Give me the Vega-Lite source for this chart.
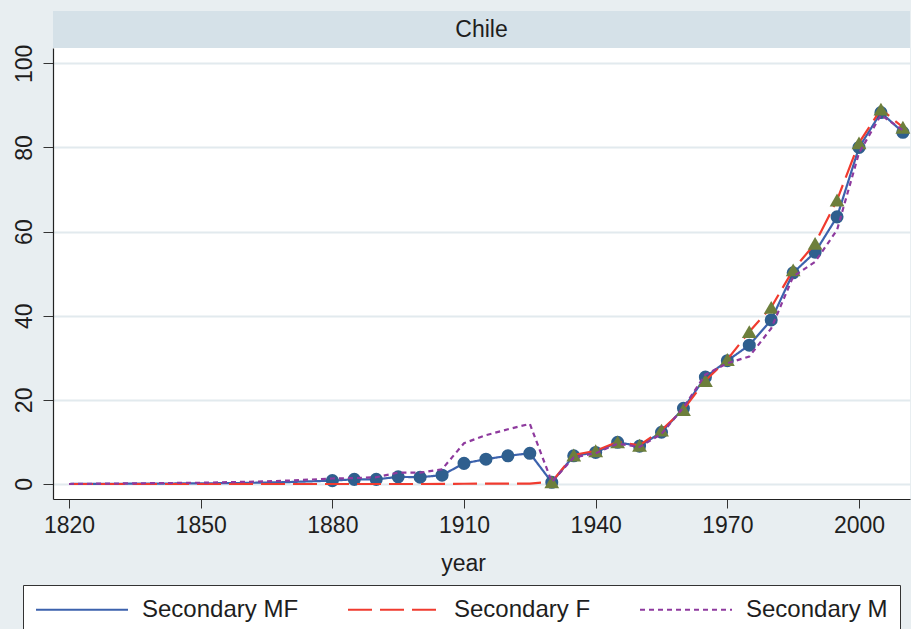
{
  "$schema": "https://vega.github.io/schema/vega-lite/v6.json",
  "background": "#e8eef1",
  "padding": {"left": 12, "top": 11, "right": 0, "bottom": 0},
  "spacing": 0,
  "bounds": "flush",
  "config": {
    "font": "Liberation Sans",
    "view": {"stroke": null},
    "axis": {
      "labelFont": "Liberation Sans",
      "titleFont": "Liberation Sans",
      "labelFontSize": 23,
      "titleFontSize": 23,
      "titleFontWeight": "normal",
      "labelColor": "#1e1e1e",
      "titleColor": "#1e1e1e",
      "domainColor": "#222222",
      "tickColor": "#333333",
      "domainWidth": 1.2,
      "tickWidth": 1
    },
    "legend": {
      "labelFont": "Liberation Sans",
      "labelFontSize": 24,
      "labelColor": "#1e1e1e"
    }
  },
  "datasets": {
    "panel": [{"country": "Chile"}],
    "chile": [
      {"year": 1820, "value": 0, "series": "Secondary MF"},
      {"year": 1830, "value": 0.05, "series": "Secondary MF"},
      {"year": 1840, "value": 0.1, "series": "Secondary MF"},
      {"year": 1850, "value": 0.15, "series": "Secondary MF"},
      {"year": 1860, "value": 0.25, "series": "Secondary MF"},
      {"year": 1870, "value": 0.45, "series": "Secondary MF"},
      {"year": 1880, "value": 0.8, "series": "Secondary MF"},
      {"year": 1885, "value": 1.1, "series": "Secondary MF"},
      {"year": 1890, "value": 1.1, "series": "Secondary MF"},
      {"year": 1895, "value": 1.7, "series": "Secondary MF"},
      {"year": 1900, "value": 1.6, "series": "Secondary MF"},
      {"year": 1905, "value": 2.1, "series": "Secondary MF"},
      {"year": 1910, "value": 4.9, "series": "Secondary MF"},
      {"year": 1915, "value": 5.9, "series": "Secondary MF"},
      {"year": 1920, "value": 6.7, "series": "Secondary MF"},
      {"year": 1925, "value": 7.3, "series": "Secondary MF"},
      {"year": 1930, "value": 0.4, "series": "Secondary MF"},
      {"year": 1935, "value": 6.7, "series": "Secondary MF"},
      {"year": 1940, "value": 7.5, "series": "Secondary MF"},
      {"year": 1945, "value": 9.9, "series": "Secondary MF"},
      {"year": 1950, "value": 9.0, "series": "Secondary MF"},
      {"year": 1955, "value": 12.3, "series": "Secondary MF"},
      {"year": 1960, "value": 18.0, "series": "Secondary MF"},
      {"year": 1965, "value": 25.4, "series": "Secondary MF"},
      {"year": 1970, "value": 29.3, "series": "Secondary MF"},
      {"year": 1975, "value": 33.0, "series": "Secondary MF"},
      {"year": 1980, "value": 39.0, "series": "Secondary MF"},
      {"year": 1985, "value": 50.2, "series": "Secondary MF"},
      {"year": 1990, "value": 55.1, "series": "Secondary MF"},
      {"year": 1995, "value": 63.5, "series": "Secondary MF"},
      {"year": 2000, "value": 80.0, "series": "Secondary MF"},
      {"year": 2005, "value": 88.3, "series": "Secondary MF"},
      {"year": 2010, "value": 83.6, "series": "Secondary MF"},
      {"year": 1820, "value": 0, "series": "Secondary F"},
      {"year": 1840, "value": 0, "series": "Secondary F"},
      {"year": 1860, "value": 0, "series": "Secondary F"},
      {"year": 1880, "value": 0, "series": "Secondary F"},
      {"year": 1900, "value": 0, "series": "Secondary F"},
      {"year": 1910, "value": 0.05, "series": "Secondary F"},
      {"year": 1920, "value": 0.1, "series": "Secondary F"},
      {"year": 1925, "value": 0.1, "series": "Secondary F"},
      {"year": 1930, "value": 0.5, "series": "Secondary F"},
      {"year": 1935, "value": 6.9, "series": "Secondary F"},
      {"year": 1940, "value": 7.9, "series": "Secondary F"},
      {"year": 1945, "value": 10.0, "series": "Secondary F"},
      {"year": 1950, "value": 9.2, "series": "Secondary F"},
      {"year": 1955, "value": 12.8, "series": "Secondary F"},
      {"year": 1960, "value": 17.7, "series": "Secondary F"},
      {"year": 1965, "value": 24.6, "series": "Secondary F"},
      {"year": 1970, "value": 29.6, "series": "Secondary F"},
      {"year": 1975, "value": 36.2, "series": "Secondary F"},
      {"year": 1980, "value": 42.0, "series": "Secondary F"},
      {"year": 1985, "value": 50.9, "series": "Secondary F"},
      {"year": 1990, "value": 57.2, "series": "Secondary F"},
      {"year": 1995, "value": 67.5, "series": "Secondary F"},
      {"year": 2000, "value": 81.1, "series": "Secondary F"},
      {"year": 2005, "value": 89.1, "series": "Secondary F"},
      {"year": 2010, "value": 84.8, "series": "Secondary F"},
      {"year": 1820, "value": 0, "series": "Secondary M"},
      {"year": 1830, "value": 0.1, "series": "Secondary M"},
      {"year": 1840, "value": 0.2, "series": "Secondary M"},
      {"year": 1850, "value": 0.3, "series": "Secondary M"},
      {"year": 1860, "value": 0.5, "series": "Secondary M"},
      {"year": 1870, "value": 0.8, "series": "Secondary M"},
      {"year": 1880, "value": 1.3, "series": "Secondary M"},
      {"year": 1885, "value": 1.4, "series": "Secondary M"},
      {"year": 1890, "value": 1.6, "series": "Secondary M"},
      {"year": 1895, "value": 2.7, "series": "Secondary M"},
      {"year": 1900, "value": 2.7, "series": "Secondary M"},
      {"year": 1905, "value": 3.5, "series": "Secondary M"},
      {"year": 1910, "value": 9.7, "series": "Secondary M"},
      {"year": 1915, "value": 11.6, "series": "Secondary M"},
      {"year": 1920, "value": 13.0, "series": "Secondary M"},
      {"year": 1925, "value": 14.3, "series": "Secondary M"},
      {"year": 1930, "value": 0.5, "series": "Secondary M"},
      {"year": 1935, "value": 6.3, "series": "Secondary M"},
      {"year": 1940, "value": 7.3, "series": "Secondary M"},
      {"year": 1945, "value": 9.6, "series": "Secondary M"},
      {"year": 1950, "value": 8.8, "series": "Secondary M"},
      {"year": 1955, "value": 11.9, "series": "Secondary M"},
      {"year": 1960, "value": 18.2, "series": "Secondary M"},
      {"year": 1965, "value": 26.0, "series": "Secondary M"},
      {"year": 1970, "value": 28.7, "series": "Secondary M"},
      {"year": 1975, "value": 30.3, "series": "Secondary M"},
      {"year": 1980, "value": 37.0, "series": "Secondary M"},
      {"year": 1985, "value": 49.3, "series": "Secondary M"},
      {"year": 1990, "value": 52.8, "series": "Secondary M"},
      {"year": 1995, "value": 60.4, "series": "Secondary M"},
      {"year": 2000, "value": 78.7, "series": "Secondary M"},
      {"year": 2005, "value": 87.7, "series": "Secondary M"},
      {"year": 2010, "value": 84.1, "series": "Secondary M"}
    ]
  },
  "vconcat": [
    {
      "width": 857,
      "height": 37,
      "view": {"fill": "#d5e1e8", "stroke": null},
      "data": {"name": "panel"},
      "mark": {"type": "text", "fontSize": 23, "font": "Liberation Sans", "color": "#1e1e1e"},
      "encoding": {"text": {"field": "country"}}
    },
    {
      "width": 857,
      "height": 451,
      "view": {"fill": "white", "stroke": null},
      "data": {"name": "chile"},
      "encoding": {
        "x": {
          "field": "year",
          "type": "quantitative",
          "scale": {"domain": [1816.35, 2011.62], "nice": false, "zero": false},
          "axis": {
            "values": [1820, 1850, 1880, 1910, 1940, 1970, 2000],
            "title": "year",
            "grid": false,
            "tickSize": 9,
            "labelPadding": 6,
            "labelFlush": false,
            "labelOverlap": false,
            "titlePadding": 15,
            "titleX": 410,
            "format": "d"
          }
        },
        "y": {
          "field": "value",
          "type": "quantitative",
          "scale": {"domain": [-3.57, 103.64], "nice": false, "zero": false},
          "axis": {
            "values": [0, 20, 40, 60, 80, 100],
            "title": null,
            "grid": true,
            "gridColor": "#e2eaee",
            "gridWidth": 2,
            "tickSize": 10,
            "labelPadding": 7,
            "labelAngle": 270,
            "labelAlign": "center",
            "labelBaseline": "bottom",
            "labelOverlap": false
          }
        }
      },
      "layer": [
        {
          "transform": [{"filter": "datum.series === 'Secondary MF'"}],
          "mark": {"type": "line", "strokeWidth": 2.2},
          "encoding": {
            "color": {
              "field": "series",
              "type": "nominal",
              "scale": {"domain": ["Secondary MF", "Secondary F", "Secondary M"], "range": ["#3c62ad", "#f03b2f", "#8e3a9e"]},
              "legend": {
                "orient": "none", "legendX": -30, "legendY": 574, "direction": "horizontal", "title": null,
                "symbolType": "M-1,0H7", "symbolSize": 529, "symbolStrokeWidth": 2,
                "labelOffset": 82, "columnPadding": 45, "padding": 12,
                "strokeColor": "#333333", "fillColor": "white", "labelLimit": 400
              }
            },
            "strokeDash": {
              "field": "series",
              "type": "nominal",
              "scale": {"domain": ["Secondary MF", "Secondary F", "Secondary M"], "range": [[1, 0], [24, 8], [5, 4]]},
              "legend": {
                "orient": "none", "legendX": -30, "legendY": 574, "direction": "horizontal", "title": null,
                "symbolType": "M-1,0H7", "symbolSize": 529, "symbolStrokeWidth": 2,
                "labelOffset": 82, "columnPadding": 45, "padding": 12,
                "strokeColor": "#333333", "fillColor": "white", "labelLimit": 400
              }
            }
          }
        },
        {
          "transform": [{"filter": "datum.series === 'Secondary MF' && datum.year >= 1880"}],
          "mark": {"type": "point", "shape": "circle", "filled": true, "opacity": 1, "size": 170, "color": "#2f5f8e"}
        },
        {
          "transform": [{"filter": "datum.series === 'Secondary F'"}],
          "mark": {"type": "line", "strokeWidth": 2.2},
          "encoding": {
            "color": {"field": "series", "type": "nominal"},
            "strokeDash": {"field": "series", "type": "nominal"}
          }
        },
        {
          "transform": [{"filter": "datum.series === 'Secondary F' && datum.year >= 1930"}],
          "mark": {"type": "point", "shape": "triangle-up", "filled": true, "opacity": 1, "size": 220, "color": "#6d7f3c"}
        },
        {
          "transform": [{"filter": "datum.series === 'Secondary M'"}],
          "mark": {"type": "line", "strokeWidth": 2.2},
          "encoding": {
            "color": {"field": "series", "type": "nominal"},
            "strokeDash": {"field": "series", "type": "nominal"}
          }
        }
      ]
    }
  ]
}
